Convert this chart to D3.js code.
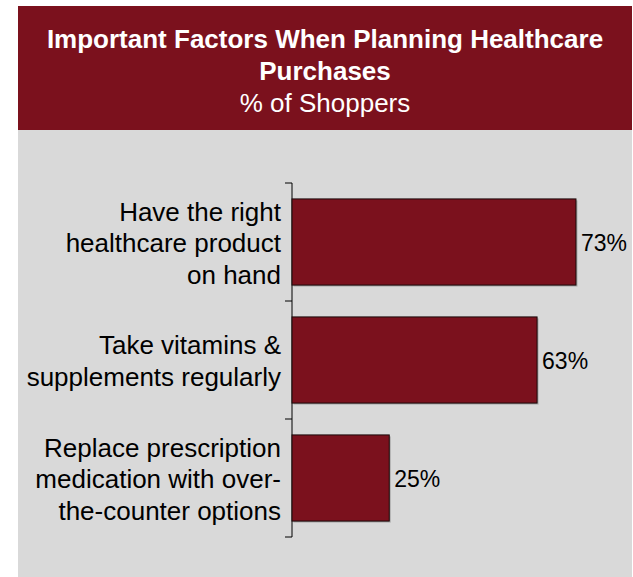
<!DOCTYPE html>
<html><head><meta charset="utf-8">
<script src="https://cdn.jsdelivr.net/npm/d3@7"></script>
<style>html,body{margin:0;padding:0;background:#fff;}svg{display:block;}</style>
</head><body>
<script>
const categories = [
  ["Have the right", "healthcare product", "on hand"],
  ["Take vitamins &", "supplements regularly"],
  ["Replace prescription", "medication with over-", "the-counter options"]
];
const values = [73, 63, 25];
const valueLabels = ["73%", "63%", "25%"];
const titleLines = ["Important Factors When Planning Healthcare", "Purchases"];
const subtitle = "% of Shoppers";

const W = 633, H = 577;
const svg = d3.select("body").append("svg").attr("width", W).attr("height", H);
const font = "'Liberation Sans', Arial, sans-serif";

svg.append("rect").attr("x", 18).attr("y", 6).attr("width", 614).attr("height", 571).attr("fill", "#d9d9d9");
svg.append("rect").attr("x", 18).attr("y", 6).attr("width", 614).attr("height", 124).attr("fill", "#7b111d");

const cx = 325;
titleLines.forEach((t, i) => {
  svg.append("text").attr("x", cx).attr("y", 48 + i * 32).attr("text-anchor", "middle")
    .attr("font-family", font).attr("font-size", 26).attr("font-weight", "bold").attr("fill", "#fff").text(t);
});
svg.append("text").attr("x", cx).attr("y", 112).attr("text-anchor", "middle")
  .attr("font-family", font).attr("font-size", 26).attr("fill", "#fff").text(subtitle);

const x = d3.scaleLinear().domain([0, 100]).range([292, 681]);
const y = d3.scaleBand().domain(d3.range(categories.length)).range([183, 537]).paddingInner(0.27).paddingOuter(0.135);

const axisG = svg.append("g");
axisG.append("line").attr("x1", 292).attr("x2", 292).attr("y1", 183).attr("y2", 537).attr("stroke", "#000").attr("stroke-width", 1);
d3.range(categories.length + 1).forEach(i => {
  const ty = 183 + i * (354 / categories.length);
  axisG.append("line").attr("x1", 285).attr("x2", 292).attr("y1", ty).attr("y2", ty).attr("stroke", "#000");
});

const bars = svg.append("g");
values.forEach((v, i) => {
  bars.append("rect").attr("x", x(0) + 1.5).attr("y", y(i) + 1.5).attr("width", x(v) - x(0)).attr("height", y.bandwidth())
    .attr("fill", "#8c8c8c").attr("opacity", 0.6);
  bars.append("rect").attr("x", x(0)).attr("y", y(i)).attr("width", x(v) - x(0)).attr("height", y.bandwidth())
    .attr("fill", "#7b111d").attr("stroke", "#1a0a0a").attr("stroke-width", 1);
  const c = y(i) + y.bandwidth() / 2;
  svg.append("text").attr("x", x(v) + 5).attr("y", c + 9)
    .attr("font-family", font).attr("font-size", 23).attr("fill", "#000").text(valueLabels[i]);
  const lines = categories[i];
  const lh = 31.5;
  lines.forEach((l, j) => {
    svg.append("text").attr("x", 281).attr("y", c + (j - (lines.length - 1) / 2) * lh + 10)
      .attr("text-anchor", "end").attr("font-family", font).attr("font-size", 26).attr("fill", "#000").text(l);
  });
});
</script>
</body></html>
